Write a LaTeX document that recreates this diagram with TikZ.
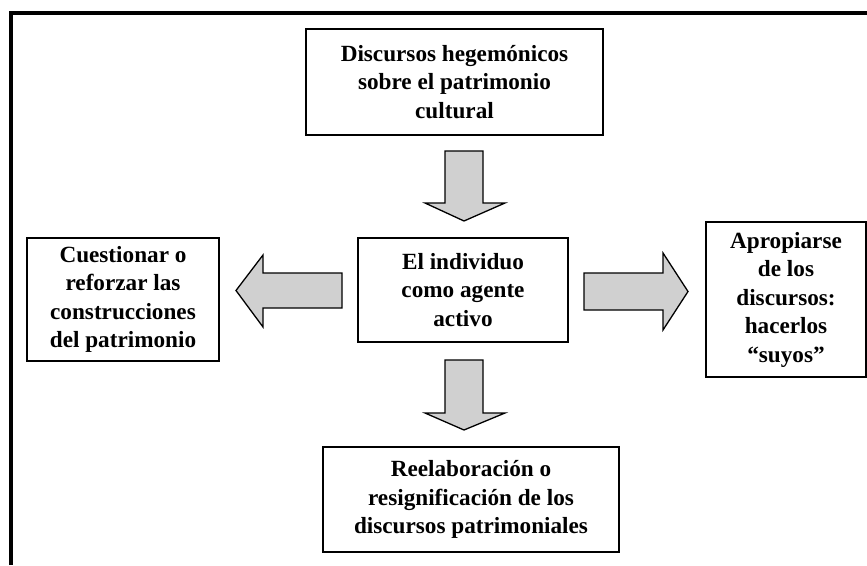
\documentclass[tikz,border=0pt]{standalone}
\usepackage{fontspec}
\setmainfont{Liberation Serif}
\begin{document}
\begin{tikzpicture}[x=1pt,y=-1pt,
  box/.style={draw=black, line width=1.8pt, align=center, inner sep=0pt,
    font=\fontsize{23.2}{28.5}\selectfont\bfseries},
  blockarrow/.style={draw=black, line width=1.3pt, fill=arrowgray, line join=miter},
  frame/.style={draw=black, line width=4pt}]
\definecolor{arrowgray}{RGB}{208,208,208}
\useasboundingbox (0,0) rectangle (867,565);
% outer frame (open on right and bottom)
\draw[frame] (10.5,565) -- (10.5,12.5) -- (867,12.5);
% boxes
\node[box, minimum width=297pt, minimum height=106pt] (top) at (454.5,82) {Discursos hegemónicos\\sobre el patrimonio\\cultural};
\node[box, minimum width=210pt, minimum height=104pt] (center) at (463,290) {El individuo\\como agente\\activo};
\node[box, minimum width=192pt, minimum height=123pt] (left) at (123,299.5) {Cuestionar o\\reforzar las\\construcciones\\del patrimonio};
\node[box, minimum width=160pt, minimum height=155pt] (right) at (786,299.5) {Apropiarse\\de los\\discursos:\\hacerlos\\“suyos”};
\node[box, minimum width=296pt, minimum height=105pt] (bottom) at (471,499.5) {Reelaboración o\\resignificación de los\\discursos patrimoniales};
% block arrows
\draw[blockarrow] (445,151) -- (483,151) -- (483,203) -- (505,203) -- (464,221) -- (425,203) -- (445,203) -- cycle;
\draw[blockarrow] (445,360) -- (483,360) -- (483,413) -- (505,413) -- (464,430) -- (425,413) -- (445,413) -- cycle;
\draw[blockarrow] (342,273) -- (342,308) -- (263,308) -- (263,327) -- (236,290.5) -- (263,255) -- (263,273) -- cycle;
\draw[blockarrow] (584,273) -- (584,310) -- (663,310) -- (663,330) -- (688,291.5) -- (663,253) -- (663,273) -- cycle;
\end{tikzpicture}
\end{document}
